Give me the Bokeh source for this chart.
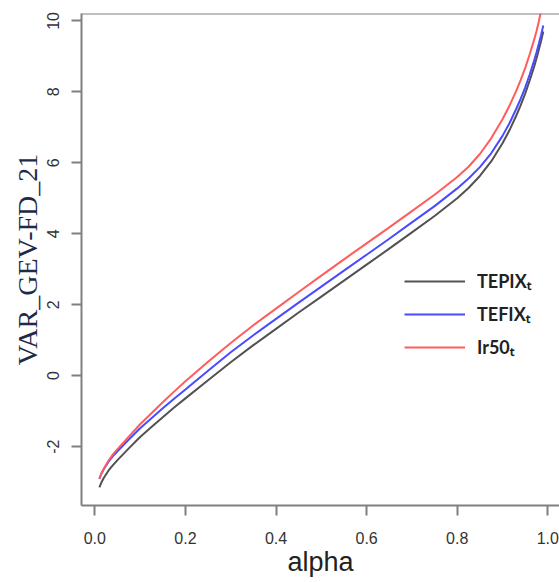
from bokeh.plotting import figure
from bokeh.models import FixedTicker, Span, Legend, LegendItem, Range1d
from bokeh.embed import file_html
from bokeh.resources import INLINE

# ---- data ----
alpha = [0.01, 0.015, 0.02, 0.03, 0.04, 0.05, 0.075, 0.1, 0.125, 0.15, 0.175,
         0.2, 0.25, 0.3, 0.35, 0.4, 0.45, 0.5, 0.55, 0.6, 0.65, 0.7, 0.75,
         0.8, 0.825, 0.85, 0.875, 0.9, 0.915, 0.93, 0.94, 0.95, 0.96, 0.97,
         0.975, 0.98, 0.985, 0.99]
tepix = [-3.15, -3.00, -2.88, -2.68, -2.52, -2.38, -2.05, -1.73, -1.45, -1.17,
         -0.90, -0.64, -0.13, 0.38, 0.86, 1.32, 1.78, 2.23, 2.68, 3.13, 3.58,
         4.04, 4.50, 5.00, 5.29, 5.63, 6.04, 6.55, 6.91, 7.32, 7.62, 7.95,
         8.32, 8.72, 8.94, 9.18, 9.43, 9.70]
tefix = [-2.91, -2.75, -2.63, -2.43, -2.27, -2.13, -1.80, -1.48, -1.20, -0.92,
         -0.65, -0.39, 0.14, 0.66, 1.14, 1.60, 2.06, 2.51, 2.96, 3.41, 3.86,
         4.32, 4.78, 5.28, 5.56, 5.88, 6.27, 6.76, 7.11, 7.51, 7.80, 8.12,
         8.49, 8.89, 9.11, 9.35, 9.60, 9.87]
ir50 = [-2.91, -2.75, -2.62, -2.40, -2.22, -2.07, -1.72, -1.37, -1.06, -0.75,
        -0.45, -0.16, 0.39, 0.92, 1.42, 1.89, 2.36, 2.82, 3.28, 3.73, 4.18,
        4.64, 5.10, 5.60, 5.89, 6.25, 6.69, 7.23, 7.60, 8.02, 8.33, 8.67,
        9.06, 9.48, 9.71, 9.98, 10.27, 10.60]
series_labels = ["TEPIX\u209c", "TEFIX\u209c", "Ir50\u209c"]
series_colors = ["#525252", "#4a4aff", "#ff5c5c"]

x_ticks = [0.0, 0.2, 0.4, 0.6, 0.8, 1.0]
x_tick_labels = ["0.0", "0.2", "0.4", "0.6", "0.8", "1.0"]
y_ticks = [-2, 0, 2, 4, 6, 8, 10]
y_tick_labels = ["-2", "0", "2", "4", "6", "8", "10"]

p = figure(width=559, height=582, output_backend="svg", toolbar_location=None,
           x_range=Range1d(-0.0294, 1.0258), y_range=Range1d(-3.66, 10.21),
           min_border_left=81, min_border_right=0, min_border_top=13,
           min_border_bottom=77)
p.grid.visible = False
p.outline_line_color = None
p.background_fill_color = "white"
p.border_fill_color = "white"

renderers = []
for ys, col in zip([tepix, tefix, ir50], series_colors):
    r = p.line(alpha, ys, line_color=col, line_width=2)
    renderers.append(r)

# top edge of the box
p.add_layout(Span(location=10.21, dimension="width", line_color="#808080",
                  line_width=2))

frame_col = "#808080"
tick_text = "#333333"

xa = p.xaxis[0]
xa.ticker = FixedTicker(ticks=x_ticks)
xa.major_label_overrides = {t: s for t, s in zip(x_ticks, x_tick_labels)}
xa.minor_tick_line_color = None
xa.axis_line_color = frame_col
xa.axis_line_width = 2
xa.major_tick_line_color = frame_col
xa.major_tick_line_width = 2
xa.major_tick_in = 0
xa.major_tick_out = 10
xa.major_label_text_font = "Liberation Sans"
xa.major_label_text_font_size = "16px"
xa.major_label_text_color = tick_text
xa.major_label_standoff = 16
xa.axis_label = "alpha"
xa.axis_label_text_font = "Liberation Sans"
xa.axis_label_text_font_style = "normal"
xa.axis_label_text_font_size = "27px"
xa.axis_label_text_color = "#222222"
xa.axis_label_standoff = 0

ya = p.yaxis[0]
ya.ticker = FixedTicker(ticks=y_ticks)
ya.major_label_overrides = {t: s for t, s in zip(y_ticks, y_tick_labels)}
ya.minor_tick_line_color = None
ya.axis_line_color = frame_col
ya.axis_line_width = 2
ya.major_tick_line_color = frame_col
ya.major_tick_line_width = 2
ya.major_tick_in = 0
ya.major_tick_out = 10
ya.major_label_orientation = "vertical"
ya.major_label_text_font = "Liberation Sans"
ya.major_label_text_font_size = "16px"
ya.major_label_text_color = tick_text
ya.major_label_standoff = 12
ya.axis_label = "VAR_GEV-FD_21"
ya.axis_label_text_font = "Liberation Serif"
ya.axis_label_text_font_style = "normal"
ya.axis_label_text_font_size = "28px"
ya.axis_label_text_color = "#1e2a48"
ya.axis_label_standoff = 2

legend = Legend(
    items=[LegendItem(label=lab, renderers=[r]) for lab, r in zip(series_labels, renderers)],
    location=(323, 146),
    border_line_color=None,
    background_fill_alpha=0,
    padding=0,
    margin=0,
    spacing=9,
    glyph_width=61,
    glyph_height=22,
    label_height=22,
    label_standoff=12,
    label_text_font="Lato",
    label_text_font_style="bold",
    label_text_font_size="18px",
    label_text_color="#222222",
)
p.add_layout(legend)

open("out.html", "w").write(file_html(p, INLINE))
